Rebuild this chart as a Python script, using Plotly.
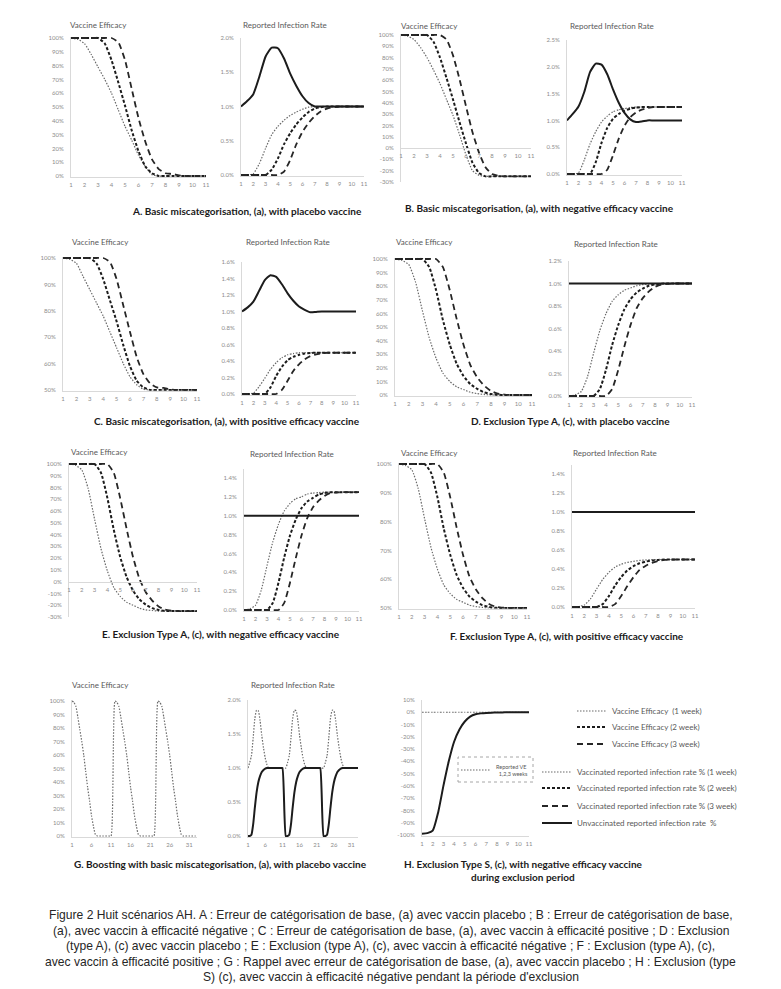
import plotly.graph_objects as go

W, H = 781, 989

# ---------------- data ----------------
weeks = [1, 1.5, 2, 2.5, 3, 3.5, 4, 4.5, 5, 5.5, 6, 6.5, 7, 7.5, 8, 8.5, 9, 9.5, 10, 10.5, 11]
g_weeks = [1, 1.5, 2, 2.5, 3, 3.5, 4, 4.5, 5, 5.5, 6, 6.5, 7, 7.5, 8, 8.5, 9, 9.5, 10, 10.5, 11,
           12, 12.5, 13, 13.5, 14, 14.5, 15, 15.5, 16, 16.5, 17, 17.5, 18, 18.5, 19, 19.5, 20, 20.5, 21, 21.5, 22,
           23, 23.5, 24, 24.5, 25, 25.5, 26, 26.5, 27, 27.5, 28, 28.5, 29, 29.5, 30, 30.5, 31, 31.5, 32, 32.5, 33]

# A
a_ve_1w = [100, 99, 96, 88, 79, 70, 60, 48, 36, 26, 15, 7, 1, 0, 0, 0, 0, 0, 0, 0, 0]
a_ve_2w = [100, 100, 100, 100, 100, 96, 84, 68, 51, 33, 18, 7, 2, 0, 0, 0, 0, 0, 0, 0, 0]
a_ve_3w = [100, 100, 100, 100, 100, 100, 100, 97, 84, 63, 42, 25, 12, 5, 2, 1.5, 0.5, 0, 0, 0, 0]
a_rir_un = [1.0, 1.08, 1.18, 1.44, 1.73, 1.86, 1.85, 1.70, 1.48, 1.30, 1.15, 1.05, 1.0, 1.0, 1.0, 1.0, 1.0, 1.0, 1.0, 1.0, 1.0]
a_rir_1w = [0, 0, 0.02, 0.17, 0.39, 0.59, 0.71, 0.8, 0.87, 0.92, 0.96, 0.99, 1.0, 1.0, 1.0, 1.0, 1.0, 1.0, 1.0, 1.0, 1.0]
a_rir_2w = [0, 0, 0, 0, 0, 0.08, 0.24, 0.45, 0.61, 0.74, 0.84, 0.92, 0.97, 0.99, 1.0, 1.0, 1.0, 1.0, 1.0, 1.0, 1.0]
a_rir_3w = [0, 0, 0, 0, 0, 0, 0, 0.05, 0.22, 0.45, 0.63, 0.76, 0.86, 0.93, 0.97, 0.99, 1.0, 1.0, 1.0, 1.0, 1.0]
# B
b_ve_1w = [100, 99, 96, 89, 80, 69, 57, 43, 29, 12, -6, -20, -24, -25, -25, -25, -25, -25, -25, -25, -25]
b_ve_2w = [100, 100, 100, 100, 100, 94, 80, 62, 43, 23, 4, -13, -22, -25, -25, -25, -25, -25, -25, -25, -25]
b_ve_3w = [100, 100, 100, 100, 100, 100, 100, 96, 82, 61, 37, 14, -4, -17, -23, -24.5, -25, -25, -25, -25, -25]
b_rir_un = [1.0, 1.12, 1.26, 1.53, 1.9, 2.06, 2.04, 1.86, 1.58, 1.33, 1.14, 1.02, 0.97, 0.98, 1.0, 1.0, 1.0, 1.0, 1.0, 1.0, 1.0]
b_rir_1w = [0, 0, 0.02, 0.26, 0.56, 0.79, 0.97, 1.08, 1.16, 1.2, 1.22, 1.24, 1.25, 1.25, 1.25, 1.25, 1.25, 1.25, 1.25, 1.25, 1.25]
b_rir_2w = [0, 0, 0, 0, 0, 0.22, 0.58, 0.86, 1.03, 1.12, 1.18, 1.22, 1.24, 1.25, 1.25, 1.25, 1.25, 1.25, 1.25, 1.25, 1.25]
b_rir_3w = [0, 0, 0, 0, 0, 0, 0, 0.08, 0.35, 0.66, 0.9, 1.06, 1.15, 1.2, 1.23, 1.25, 1.25, 1.25, 1.25, 1.25, 1.25]
# C
c_ve_1w = [100, 99.5, 98, 93, 88, 83, 78, 72, 66, 60, 55, 52, 50.3, 50, 50, 50, 50, 50, 50, 50, 50]
c_ve_2w = [100, 100, 100, 100, 100, 98, 92, 84, 76, 67, 59, 53.5, 51, 50, 50, 50, 50, 50, 50, 50, 50]
c_ve_3w = [100, 100, 100, 100, 100, 100, 100, 98.5, 92, 82, 72, 62.5, 56, 52.5, 51, 50.8, 50.2, 50, 50, 50, 50]
c_rir_un = [1.0, 1.05, 1.12, 1.25, 1.38, 1.44, 1.42, 1.33, 1.22, 1.13, 1.06, 1.02, 0.99, 0.995, 1.0, 1.0, 1.0, 1.0, 1.0, 1.0, 1.0]
c_rir_1w = [0, 0, 0.01, 0.09, 0.19, 0.3, 0.38, 0.44, 0.475, 0.49, 0.5, 0.5, 0.5, 0.5, 0.5, 0.5, 0.5, 0.5, 0.5, 0.5, 0.5]
c_rir_2w = [0, 0, 0, 0, 0, 0.08, 0.22, 0.33, 0.41, 0.45, 0.475, 0.49, 0.497, 0.5, 0.5, 0.5, 0.5, 0.5, 0.5, 0.5, 0.5]
c_rir_3w = [0, 0, 0, 0, 0, 0, 0, 0.05, 0.16, 0.28, 0.36, 0.42, 0.46, 0.48, 0.493, 0.5, 0.5, 0.5, 0.5, 0.5, 0.5]
# D
d_ve_1w = [100, 99, 96, 83, 62, 42, 27, 16, 10, 6, 4, 2, 1, 0.4, 0, 0, 0, 0, 0, 0, 0]
d_ve_2w = [100, 100, 100, 100, 100, 94, 77, 55, 37, 23, 14, 8, 4.5, 2, 0.8, 0.2, 0, 0, 0, 0, 0]
d_ve_3w = [100, 100, 100, 100, 100, 100, 100, 94, 77, 56, 37, 22, 13, 7, 3, 1, 0.3, 0, 0, 0, 0]
d_rir_un = [1.0, 1.0, 1.0, 1.0, 1.0, 1.0, 1.0, 1.0, 1.0, 1.0, 1.0, 1.0, 1.0, 1.0, 1.0, 1.0, 1.0, 1.0, 1.0, 1.0, 1.0]
d_rir_1w = [0, 0.01, 0.04, 0.17, 0.38, 0.58, 0.73, 0.84, 0.9, 0.94, 0.96, 0.98, 0.99, 0.996, 1.0, 1.0, 1.0, 1.0, 1.0, 1.0, 1.0]
d_rir_2w = [0, 0, 0, 0, 0, 0.06, 0.23, 0.45, 0.63, 0.77, 0.86, 0.92, 0.955, 0.98, 0.992, 0.998, 1.0, 1.0, 1.0, 1.0, 1.0]
d_rir_3w = [0, 0, 0, 0, 0, 0, 0, 0.06, 0.23, 0.44, 0.63, 0.78, 0.87, 0.93, 0.97, 0.99, 0.997, 1.0, 1.0, 1.0, 1.0]
# E
e_ve_1w = [100, 99, 95, 79, 53, 28, 9, -5, -12.5, -17.5, -20, -22.5, -24, -24.5, -25, -25, -25, -25, -25, -25, -25]
e_ve_2w = [100, 100, 100, 100, 100, 92.5, 71, 44, 21, 4, -7.5, -15, -19.5, -22.5, -24, -24.75, -25, -25, -25, -25, -25]
e_ve_3w = [100, 100, 100, 100, 100, 100, 100, 92.5, 71, 45, 21, 2.5, -9, -16, -21, -23.75, -24.6, -25, -25, -25, -25]
e_rir_un = [1.0, 1.0, 1.0, 1.0, 1.0, 1.0, 1.0, 1.0, 1.0, 1.0, 1.0, 1.0, 1.0, 1.0, 1.0, 1.0, 1.0, 1.0, 1.0, 1.0, 1.0]
e_rir_1w = [0, 0.012, 0.05, 0.21, 0.47, 0.72, 0.91, 1.05, 1.13, 1.18, 1.2, 1.23, 1.24, 1.245, 1.25, 1.25, 1.25, 1.25, 1.25, 1.25, 1.25]
e_rir_2w = [0, 0, 0, 0, 0, 0.075, 0.29, 0.56, 0.79, 0.96, 1.08, 1.15, 1.19, 1.225, 1.24, 1.248, 1.25, 1.25, 1.25, 1.25, 1.25]
e_rir_3w = [0, 0, 0, 0, 0, 0, 0, 0.075, 0.29, 0.55, 0.79, 0.975, 1.09, 1.16, 1.21, 1.24, 1.246, 1.25, 1.25, 1.25, 1.25]
# F
f_ve_1w = [100, 99.5, 98, 91.5, 81, 71, 63.5, 58, 55, 53, 52, 51, 50.5, 50.2, 50, 50, 50, 50, 50, 50, 50]
f_ve_2w = [100, 100, 100, 100, 100, 97, 88.5, 77.5, 68.5, 61.5, 57, 54, 52.2, 51, 50.4, 50.1, 50, 50, 50, 50, 50]
f_ve_3w = [100, 100, 100, 100, 100, 100, 100, 97, 88.5, 78, 68.5, 61, 56.5, 53.5, 51.5, 50.5, 50.15, 50, 50, 50, 50]
f_rir_un = [1.0, 1.0, 1.0, 1.0, 1.0, 1.0, 1.0, 1.0, 1.0, 1.0, 1.0, 1.0, 1.0, 1.0, 1.0, 1.0, 1.0, 1.0, 1.0, 1.0, 1.0]
f_rir_1w = [0, 0.005, 0.02, 0.085, 0.19, 0.29, 0.365, 0.42, 0.45, 0.47, 0.48, 0.49, 0.495, 0.498, 0.5, 0.5, 0.5, 0.5, 0.5, 0.5, 0.5]
f_rir_2w = [0, 0, 0, 0, 0, 0.03, 0.115, 0.225, 0.315, 0.385, 0.43, 0.46, 0.478, 0.49, 0.496, 0.499, 0.5, 0.5, 0.5, 0.5, 0.5]
f_rir_3w = [0, 0, 0, 0, 0, 0, 0, 0.03, 0.115, 0.22, 0.315, 0.39, 0.435, 0.465, 0.485, 0.495, 0.4985, 0.5, 0.5, 0.5, 0.5]
# G
g_ve_1w = [100, 99, 96, 88, 79, 70, 60, 48, 36, 26, 15, 7, 1, 0, 0, 0, 0, 0, 0, 0, 0,
           100, 99, 96, 88, 79, 70, 60, 48, 36, 26, 15, 7, 1, 0, 0, 0, 0, 0, 0, 0, 0,
           100, 99, 96, 88, 79, 70, 60, 48, 36, 26, 15, 7, 1, 0, 0, 0, 0, 0, 0, 0, 0]
g_rir_un = [1.0, 1.08, 1.18, 1.44, 1.73, 1.85, 1.84, 1.70, 1.48, 1.30, 1.15, 1.05, 1.0, 1.0, 1.0, 1.0, 1.0, 1.0, 1.0, 1.0, 1.0,
            1.0, 1.08, 1.18, 1.44, 1.73, 1.85, 1.84, 1.70, 1.48, 1.30, 1.15, 1.05, 1.0, 1.0, 1.0, 1.0, 1.0, 1.0, 1.0, 1.0, 1.0,
            1.0, 1.08, 1.18, 1.44, 1.73, 1.85, 1.84, 1.70, 1.48, 1.30, 1.15, 1.05, 1.0, 1.0, 1.0, 1.0, 1.0, 1.0, 1.0, 1.0, 1.0]
g_rir_1w = [0, 0, 0.02, 0.17, 0.42, 0.64, 0.79, 0.88, 0.94, 0.97, 0.99, 1.0, 1.0, 1.0, 1.0, 1.0, 1.0, 1.0, 1.0, 1.0, 1.0,
            0, 0, 0.02, 0.17, 0.42, 0.64, 0.79, 0.88, 0.94, 0.97, 0.99, 1.0, 1.0, 1.0, 1.0, 1.0, 1.0, 1.0, 1.0, 1.0, 1.0,
            0, 0, 0.02, 0.17, 0.42, 0.64, 0.79, 0.88, 0.94, 0.97, 0.99, 1.0, 1.0, 1.0, 1.0, 1.0, 1.0, 1.0, 1.0, 1.0, 1.0]
# H
h_ve = [-99, -98.5, -96.5, -82, -60, -40, -24, -14, -7.5, -3.5, -1.6, -0.9, -0.5, -0.3, -0.2, -0.1, 0, 0, 0, 0, 0]
h_reported = [0, 0, 0, 0, 0, 0, 0, 0, 0, 0, 0, 0, 0, 0, 0, 0, 0, 0, 0, 0, 0]

# tick values
week_ticks = [1, 2, 3, 4, 5, 6, 7, 8, 9, 10, 11]
g_week_ticks = [1, 6, 11, 16, 21, 26, 31]
ve_ticks = [0, 10, 20, 30, 40, 50, 60, 70, 80, 90, 100]
ve_ticks_neg = [-30, -20, -10, 0, 10, 20, 30, 40, 50, 60, 70, 80, 90, 100]
ve_ticks_pos = [50, 60, 70, 80, 90, 100]
ve_ticks_h = [-100, -90, -80, -70, -60, -50, -40, -30, -20, -10, 0, 10]
rir_ticks_20 = [0, 0.5, 1.0, 1.5, 2.0]
rir_ticks_25 = [0, 0.5, 1.0, 1.5, 2.0, 2.5]
rir_ticks_16 = [0, 0.2, 0.4, 0.6, 0.8, 1.0, 1.2, 1.4, 1.6]
rir_ticks_12 = [0, 0.2, 0.4, 0.6, 0.8, 1.0, 1.2]
rir_ticks_14 = [0, 0.2, 0.4, 0.6, 0.8, 1.0, 1.2, 1.4]

# ---------------- styles ----------------
STY = {
    '1w': dict(color='#6a6a6a', width=1.2, dash='1.5px,1.5px'),
    '2w': dict(color='#1c1c1c', width=2, dash='3px,2px'),
    '3w': dict(color='#262626', width=1.8, dash='6px,4px'),
    'un': dict(color='#1c1c1c', width=2),
}
TICKFONT = dict(family='Lato, Roboto, sans-serif', size=6, color='#8c8c8c')
AXCOL = '#d9d9d9'

fig = go.Figure()
layout = dict(width=W, height=H, margin=dict(l=0, r=0, t=0, b=0, autoexpand=False),
              paper_bgcolor='white', plot_bgcolor='white', showlegend=True)


def pct_text(vals, dec):
    return [f"{v:.{dec}f}%" for v in vals]


def add_axes(n, xl, xr, xrng, xtv, ytop, ybot, ytv, yrng, dec, cross0=False):
    sy = (ybot[1] - ytop[1]) / (ytop[0] - ybot[0])
    top_px = ytop[1] - (yrng[1] - ytop[0]) * sy
    bot_px = ybot[1] + (ybot[0] - yrng[0]) * sy
    sfx = '' if n == 1 else str(n)
    xa = dict(domain=[xl / W, xr / W], range=xrng, anchor='y' + sfx, showgrid=False, zeroline=False,
              showline=True, linecolor=AXCOL, linewidth=1, ticks='', tickmode='array',
              tickvals=xtv, ticktext=[str(v) for v in xtv], tickfont=TICKFONT,
              fixedrange=True, ticklabelstandoff=2, automargin=False)
    if cross0:
        zero_px = ytop[1] + ytop[0] * sy
        xa.update(anchor='free', position=1 - zero_px / H)
    ya = dict(domain=[1 - bot_px / H, 1 - top_px / H], range=yrng, anchor='x' + sfx,
              showgrid=False, zeroline=False, showline=True, linecolor=AXCOL, linewidth=1,
              ticks='', tickmode='array', tickvals=ytv, ticktext=pct_text(ytv, dec),
              tickfont=TICKFONT, fixedrange=True, ticklabelstandoff=5, automargin=False)
    layout['xaxis' + sfx] = xa
    layout['yaxis' + sfx] = ya


def add_line(n, x, y, style, name='', legend=None):
    sfx = '' if n == 1 else str(n)
    fig.add_trace(go.Scatter(
        x=x, y=y, mode='lines', name=name,
        line=dict(**STY[style], shape='spline', smoothing=0.5),
        xaxis='x' + sfx, yaxis='y' + sfx, hoverinfo='skip',
        showlegend=legend is not None, legend=legend if legend else 'legend'))


# axes (pixel geometry of each small chart)
add_axes(1, 71, 206, [1, 11], week_ticks, (100, 38), (0, 176), ve_ticks, [-0.8, 101], 0)
add_axes(2, 241, 364, [1, 11], week_ticks, (2.0, 38), (0, 175), rir_ticks_20, [-0.015, 2.0], 1)
add_axes(3, 401, 531, [1, 11], week_ticks, (100, 35), (-30, 182), ve_ticks_neg, [-30, 101], 0, cross0=True)
add_axes(4, 567, 682, [1, 11], week_ticks, (2.5, 40), (0, 174), rir_ticks_25, [-0.02, 2.5], 1)
add_axes(5, 63, 197, [1, 11], week_ticks, (100, 258), (50, 390), ve_ticks_pos, [49.7, 100.4], 0)
add_axes(6, 242, 356, [1, 11], week_ticks, (1.6, 262), (0, 394), rir_ticks_16, [-0.012, 1.6], 1)
add_axes(7, 395, 532, [1, 11], week_ticks, (100, 259), (0, 395), ve_ticks, [-0.8, 101], 0)
add_axes(8, 569, 692, [1, 11], week_ticks, (1.2, 261), (0, 396), rir_ticks_12, [-0.01, 1.2], 1)
add_axes(9, 69, 197, [1, 11], week_ticks, (100, 464), (-30, 617), ve_ticks_neg, [-30, 101], 0, cross0=True)
add_axes(10, 244, 359, [1, 11], week_ticks, (1.4, 478), (0, 610), rir_ticks_14, [-0.012, 1.5], 1)
add_axes(11, 399, 527, [1, 11], week_ticks, (100, 464), (50, 608), ve_ticks_pos, [49.7, 100.4], 0)
add_axes(12, 572, 695, [1, 11], week_ticks, (1.4, 474), (0, 607), rir_ticks_14, [-0.012, 1.5], 1)
add_axes(13, 72, 197, [1, 33], g_week_ticks, (100, 701), (0, 836), ve_ticks, [-0.8, 101], 0)
add_axes(14, 248, 358, [1, 33], g_week_ticks, (2.0, 700), (0, 836), rir_ticks_20, [-0.015, 2.0], 1)
add_axes(15, 422, 529, [1, 11], week_ticks, (10, 700), (-100, 835), ve_ticks_h, [-101, 10], 0)

# traces
add_line(1, weeks, a_ve_1w, '1w', 'Vaccine Efficacy  (1 week)', 'legend')
add_line(1, weeks, a_ve_2w, '2w', 'Vaccine Efficacy (2 week)', 'legend2')
add_line(1, weeks, a_ve_3w, '3w', 'Vaccine Efficacy (3 week)', 'legend3')
add_line(2, weeks, a_rir_1w, '1w', 'Vaccinated reported infection rate % (1 week)', 'legend4')
add_line(2, weeks, a_rir_2w, '2w', 'Vaccinated reported infection rate % (2 week)', 'legend5')
add_line(2, weeks, a_rir_3w, '3w', 'Vaccinated reported infection rate % (3 week)', 'legend6')
add_line(2, weeks, a_rir_un, 'un', 'Unvaccinated reported infection rate  %', 'legend7')

panels = [
    (3, 4, b_ve_1w, b_ve_2w, b_ve_3w, b_rir_1w, b_rir_2w, b_rir_3w, b_rir_un),
    (5, 6, c_ve_1w, c_ve_2w, c_ve_3w, c_rir_1w, c_rir_2w, c_rir_3w, c_rir_un),
    (7, 8, d_ve_1w, d_ve_2w, d_ve_3w, d_rir_1w, d_rir_2w, d_rir_3w, d_rir_un),
    (9, 10, e_ve_1w, e_ve_2w, e_ve_3w, e_rir_1w, e_rir_2w, e_rir_3w, e_rir_un),
    (11, 12, f_ve_1w, f_ve_2w, f_ve_3w, f_rir_1w, f_rir_2w, f_rir_3w, f_rir_un),
]
for nv, nr, v1, v2, v3, r1, r2, r3, ru in panels:
    add_line(nv, weeks, v1, '1w')
    add_line(nv, weeks, v2, '2w')
    add_line(nv, weeks, v3, '3w')
    add_line(nr, weeks, r1, '1w')
    add_line(nr, weeks, r2, '2w')
    add_line(nr, weeks, r3, '3w')
    add_line(nr, weeks, ru, 'un')

add_line(13, g_weeks, g_ve_1w, '1w')
add_line(14, g_weeks, g_rir_un, '1w')
add_line(14, g_weeks, g_rir_1w, 'un')

add_line(15, weeks, h_reported, '1w', 'Reported VE<br>  1,2,3 weeks', 'legend8')
add_line(15, weeks, h_ve, 'un')


# legends
def leg(xpx, ypx, size=8):
    return dict(x=xpx / W, y=1 - ypx / H, xanchor='left', yanchor='middle',
                bgcolor='rgba(0,0,0,0)', borderwidth=0,
                font=dict(family='Lato, Roboto, sans-serif', size=size, color='#595959'),
                itemwidth=30, tracegroupgap=0, itemclick=False, itemdoubleclick=False)


layout['legend'] = leg(572, 711)
layout['legend2'] = leg(572, 727)
layout['legend3'] = leg(572, 744)
layout['legend4'] = leg(537, 772)
layout['legend5'] = leg(537, 788)
layout['legend6'] = leg(537, 806)
layout['legend7'] = leg(537, 823)
layout['legend8'] = leg(456, 770, size=5.5)

# dotted frame around the inset legend
layout['shapes'] = [dict(type='rect', xref='paper', yref='paper',
                         x0=458 / W, x1=533 / W, y0=1 - 782 / H, y1=1 - 757 / H,
                         line=dict(color='#a6a6a6', width=1, dash='dot'))]

# annotations
ann = []


def txt(xpx, ypx, text, size, color, family, weight='normal'):
    ann.append(dict(x=xpx / W, y=1 - ypx / H, xref='paper', yref='paper', text=text,
                    showarrow=False, xanchor='center', yanchor='middle',
                    font=dict(family=family, size=size, color=color, weight=weight)))


TF = 'Lato, Roboto, sans-serif'
titles = [(98, 25, 'Vaccine Efficacy'), (285, 25, 'Reported Infection Rate'),
          (430, 26, 'Vaccine Efficacy'), (612, 26, 'Reported Infection Rate'),
          (100, 242, 'Vaccine Efficacy'), (288, 242, 'Reported Infection Rate'),
          (424, 242, 'Vaccine Efficacy'), (616, 244, 'Reported Infection Rate'),
          (99, 452, 'Vaccine Efficacy'), (292, 454, 'Reported Infection Rate'),
          (430, 453, 'Vaccine Efficacy'), (615, 453, 'Reported Infection Rate'),
          (100, 685, 'Vaccine Efficacy'), (293, 685, 'Reported Infection Rate')]
for x, y, t in titles:
    txt(x, y, t, 8, '#595959', TF)

labels = [(247, 211, 'A. Basic miscategorisation, (a), with placebo vaccine'),
          (539, 208, 'B. Basic miscategorisation, (a), with negative efficacy vaccine'),
          (227, 421, 'C. Basic miscategorisation, (a), with positive efficacy vaccine'),
          (570, 421, 'D. Exclusion Type A, (c), with placebo vaccine'),
          (221, 634, 'E. Exclusion Type A, (c), with negative efficacy vaccine'),
          (567, 636, 'F. Exclusion Type A, (c), with positive efficacy vaccine'),
          (220, 864, 'G. Boosting with basic miscategorisation, (a), with placebo vaccine'),
          (523, 864, 'H. Exclusion Type S, (c), with negative efficacy vaccine'),
          (523, 877, 'during exclusion period')]
for x, y, t in labels:
    txt(x, y, t, 10, '#1a1a1a', TF, 'bold')

caption = [
    "Figure 2 Huit scénarios AH. A : Erreur de catégorisation de base, (a) avec vaccin placebo ; B : Erreur de catégorisation de base,",
    "(a), avec vaccin à efficacité négative ; C : Erreur de catégorisation de base, (a), avec vaccin à efficacité positive ; D : Exclusion",
    "(type A), (c) avec vaccin placebo ; E : Exclusion (type A), (c), avec vaccin à efficacité négative ; F : Exclusion (type A), (c),",
    "avec vaccin à efficacité positive ; G : Rappel avec erreur de catégorisation de base, (a), avec vaccin placebo ; H : Exclusion (type",
    "S) (c), avec vaccin à efficacité négative pendant la période d'exclusion",
]
for i, line in enumerate(caption):
    txt(391, 915 + i * 15.5, line, 12.1, '#262626', 'Liberation Sans, Arial, sans-serif')

layout['annotations'] = ann
fig.update_layout(**layout)
fig.write_html("out.html", config={'displayModeBar': False},
               post_script="document.body.style.margin='0px';document.body.style.overflow='hidden';")
